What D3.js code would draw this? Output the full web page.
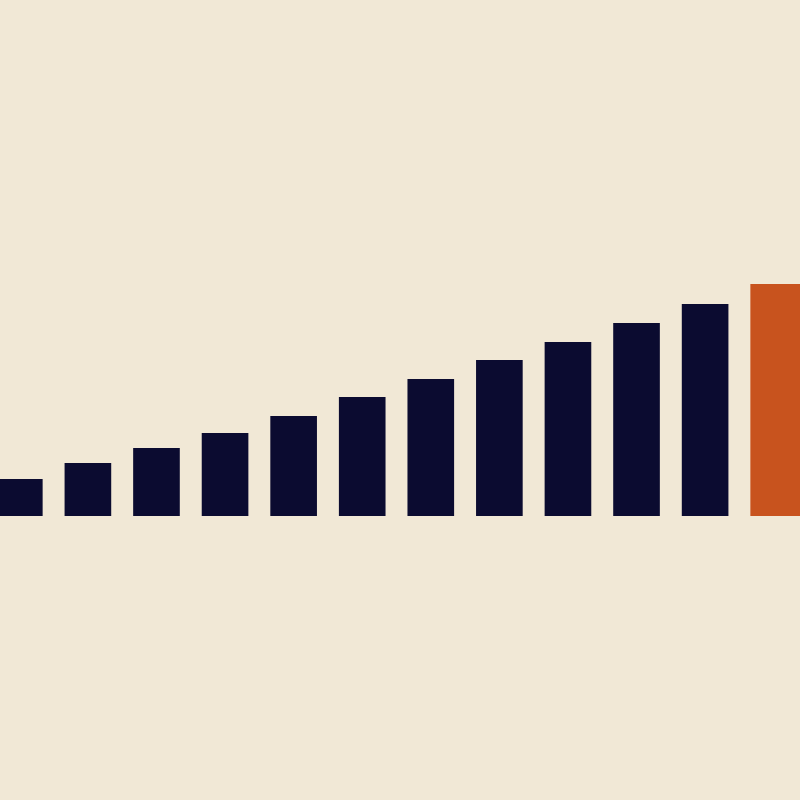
<!DOCTYPE html>
<html>
<head>
    <meta charset="utf-8">
    <script src="https://d3js.org/d3.v7.min.js"></script>
    <style>
        html, body { margin: 0; padding: 0; background: #f1e8d6; overflow: hidden; }
        svg { display: block; }
    </style>
</head>
<body>
    <svg width="800" height="800"></svg>
    <script>
        // data
        const categories = ["1", "2", "3", "4", "5", "6", "7", "8", "9", "10", "11", "12"];
        const values = [37, 53, 68, 83, 100, 119, 137, 156, 174, 193, 212, 232];
        const highlight = "12";

        const width = 800, height = 800;
        const baseline = 516;

        const svg = d3.select("svg");
        svg.append("rect").attr("width", width).attr("height", height).attr("fill", "#f1e8d6");

        const x = d3.scaleBand()
            .domain(categories)
            .range([-4, 797])
            .paddingInner(0.32)
            .paddingOuter(0);

        const y = d3.scaleLinear()
            .domain([0, 232])
            .range([baseline, 284]);

        const data = categories.map((c, i) => ({cat: c, value: values[i]}));

        svg.append("g").selectAll("rect")
            .data(data)
            .join("rect")
            .attr("x", d => x(d.cat))
            .attr("y", d => y(d.value))
            // the highlighted bar runs off the right edge
            .attr("width", d => d.cat === highlight ? width - x(d.cat) + 10 : x.bandwidth())
            .attr("height", d => y(0) - y(d.value))
            .attr("fill", d => d.cat === highlight ? "#c8531e" : "#0b0b30");
    </script>
</body>
</html>
